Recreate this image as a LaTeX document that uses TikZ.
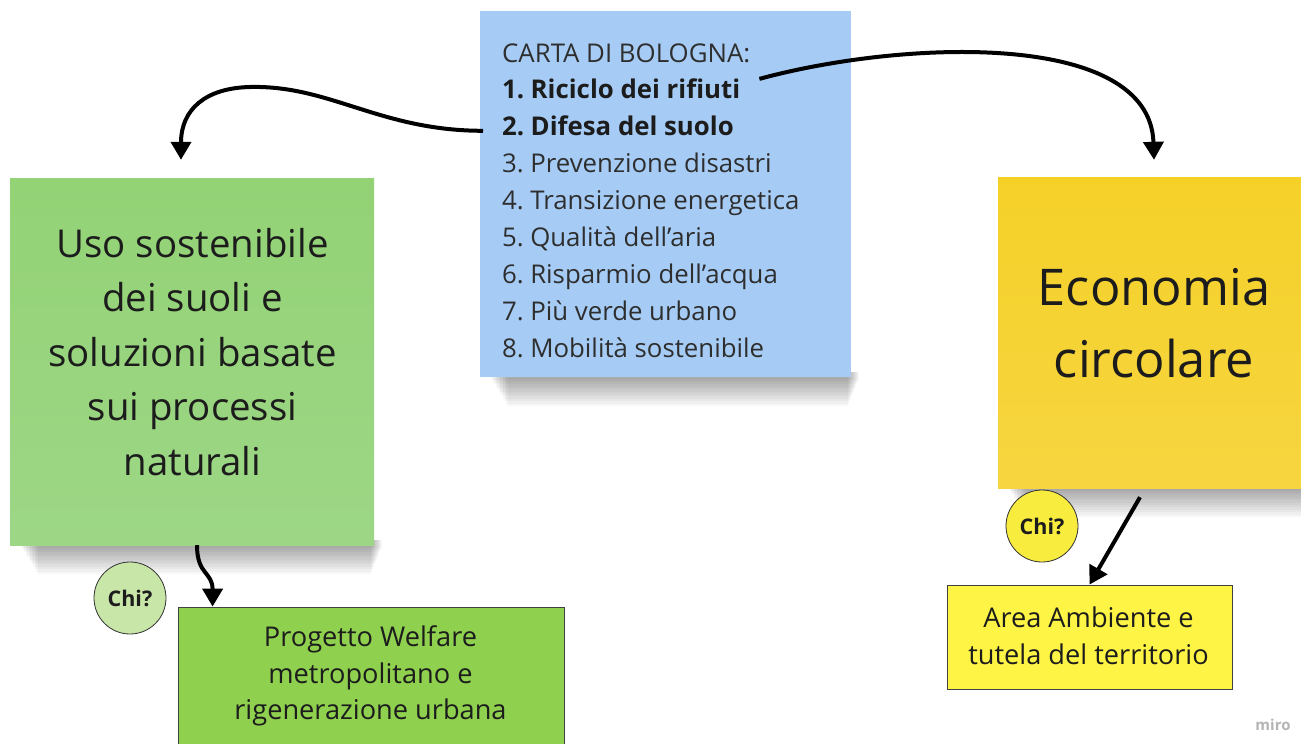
\documentclass[tikz,border=0pt]{standalone}
\usepackage{fontspec}
\setmainfont{Open Sans}
\usetikzlibrary{arrows.meta,calc}
\pgfdeclarelayer{bgzero}
\pgfdeclarelayer{shadowlayer}
\pgfsetlayers{bgzero,shadowlayer,main}
\definecolor{bluenote}{HTML}{A6CCF5}
\definecolor{greennote}{HTML}{93D275}
\definecolor{greennoteb}{HTML}{9DD786}
\definecolor{yellownote}{HTML}{F5D128}
\definecolor{yellownoteb}{HTML}{F6D540}
\definecolor{greenbox}{HTML}{8FD14F}
\definecolor{yellowbox}{HTML}{FEF445}
\definecolor{chigreen}{HTML}{C7E6A7}
\definecolor{chiyellow}{HTML}{F8EC3F}
\definecolor{ink}{HTML}{1C1C1C}
\definecolor{listgray}{HTML}{2E2E2E}
\definecolor{mirogray}{HTML}{B4B4B4}
\newcommand\cartafont{\fontsize{25.8}{31}\selectfont}
\newcommand\greenfont{\fontsize{38.4}{46}\selectfont}
\newcommand\yellowfont{\fontsize{50.6}{60}\selectfont}
\newcommand\boxfont{\fontsize{27.2}{33}\selectfont}
\tikzset{
  note/.style={draw=none, inner sep=0pt},
  shadowpiece/.style={fill=black, opacity=0.032},
  flatbox/.style={draw=black!75, line width=0.8pt, inner sep=0pt},
  chi/.style={circle, draw=black!80, line width=0.8pt, minimum size=72pt, inner sep=0pt,
    font=\fontsize{21.5}{26}\selectfont\bfseries, text=ink},
  link/.style={line width=4pt, -{Triangle[width=20pt,length=18pt]}},
  listtxt/.style={anchor=base west, inner sep=0pt, text=listgray, font=\cartafont},
  ctrtxt/.style={anchor=base, inner sep=0pt, text=ink},
}
\begin{document}
\begin{tikzpicture}[x=1pt,y=-1pt]
\begin{pgfonlayer}{bgzero}
\fill[white] (0,0) rectangle (1301,744);
\end{pgfonlayer}
\useasboundingbox (0,0) rectangle (1301,744);

% sticky notes
\node[note, fill=bluenote, minimum width=371pt, minimum height=366pt] (blue) at (665.5,194) {};
\node[note, top color=greennote, bottom color=greennoteb, minimum width=364pt, minimum height=367pt] (green) at (192,361.5) {};
\node[note, top color=yellownote, bottom color=yellownoteb, minimum width=312pt, minimum height=311pt] (yellow) at (1154,332.5) {};

% soft shadows under the notes
\begin{pgfonlayer}{shadowlayer}
\foreach \n in {blue,green,yellow} {
  \foreach \k in {1,...,12} {
    \fill[shadowpiece] ($(\n.south west)+(10+\k*1.5,-5)$) rectangle ($(\n.south east)+(9-\k*1.0,\k*2.4)$);
  }
}
\end{pgfonlayer}

% rectangles
\node[flatbox, fill=greenbox, minimum width=386pt, minimum height=163pt] (prog) at (371,688.5) {};
\node[flatbox, fill=yellowbox, minimum width=285pt, minimum height=104pt] (area) at (1089.5,637) {};

% Carta di Bologna list
\node[listtxt] (b0) at (502,62) {CARTA DI BOLOGNA:};
\node[listtxt, font=\cartafont\bfseries, text=ink] (b1) at (502,98.9) {1.\hspace{-2.5pt} Riciclo dei rifiuti};
\node[listtxt, font=\cartafont\bfseries, text=ink] (b2) at (502,135.8) {2.\hspace{-2.5pt} Difesa del suolo};
\node[listtxt] (b3) at (502,172.7) {3.\hspace{-2.5pt} Prevenzione disastri};
\node[listtxt] (b4) at (502,209.6) {4.\hspace{-2.5pt} Transizione energetica};
\node[listtxt] (b5) at (502,246.5) {5.\hspace{-2.5pt} Qualità dell’aria};
\node[listtxt] (b6) at (502,283.4) {6.\hspace{-2.5pt} Risparmio dell’acqua};
\node[listtxt] (b7) at (502,320.3) {7.\hspace{-2.5pt} Più verde urbano};
\node[listtxt] (b8) at (502,357.2) {8.\hspace{-2.5pt} Mobilità sostenibile};

% green note text
\node[ctrtxt, font=\greenfont] (g1) at (192.5,257) {Uso sostenibile};
\node[ctrtxt, font=\greenfont] (g2) at (192.5,311.5) {dei suoli e};
\node[ctrtxt, font=\greenfont] (g3) at (192.5,366) {soluzioni basate};
\node[ctrtxt, font=\greenfont] (g4) at (192.5,420.5) {sui processi};
\node[ctrtxt, font=\greenfont] (g5) at (192.5,475) {naturali};

% yellow note text
\node[ctrtxt, font=\yellowfont] (y1) at (1154,305) {Economia};
\node[ctrtxt, font=\yellowfont] (y2) at (1154,377) {circolare};

% box texts
\node[ctrtxt, font=\boxfont] (p1) at (370.5,646.5) {Progetto Welfare};
\node[ctrtxt, font=\boxfont] (p2) at (370.5,683) {metropolitano e};
\node[ctrtxt, font=\boxfont] (p3) at (370.5,719.5) {rigenerazione urbana};
\node[ctrtxt, font=\boxfont] (a1) at (1088.5,627) {Area Ambiente e};
\node[ctrtxt, font=\boxfont] (a2) at (1088.5,664) {tutela del territorio};

% Chi? circles
\node[chi, fill=chigreen] (chig) at (130,598) {Chi?};
\node[chi, fill=chiyellow] (chiy) at (1042,526) {Chi?};

% connectors
\coordinate (s1) at ($(b2.base west)+(-19,-5)$);
\coordinate (e1) at ($(green.north)+(-11,-18)$);
\draw[link] (s1) .. controls +(-103,0) and +(80,-2) .. (250,87) .. controls +(-45,1) and +(0,-50) .. (e1);

\coordinate (s2) at ($(b1.base east)+(19,-20)$);
\coordinate (e2) at ($(yellow.north)+(0,-17)$);
\draw[link] (s2) .. controls +(143,-39) and +(-4,-130) .. (e2);

\coordinate (s3) at ($(green.south)+(5,0)$);
\coordinate (e3) at ($(prog.north west)+(35,0)$);
\draw[link] (s3) .. controls +(0,30) and +(0,-35) .. (e3);

\coordinate (s4) at ($(yellow.south)+(-14,9)$);
\draw[link] (s4) -- (area.north);

% watermark
\node[inner sep=0pt, text=mirogray, font=\fontsize{15}{18}\selectfont\bfseries] (miro) at (1273,725) {miro};
\end{tikzpicture}
\end{document}
